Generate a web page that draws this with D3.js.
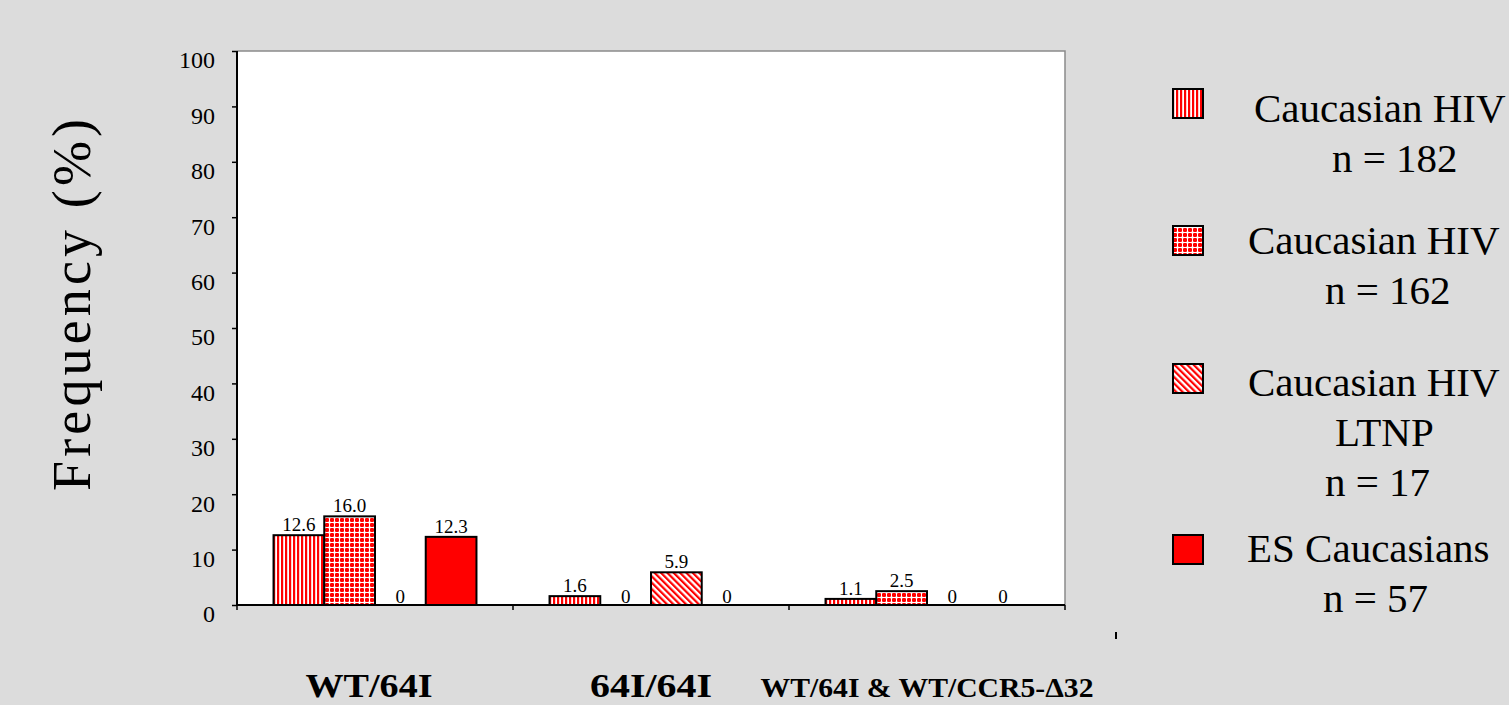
<!DOCTYPE html>
<html>
<head>
<meta charset="utf-8">
<script src="https://cdn.jsdelivr.net/npm/d3@7"></script>
<style>
  html, body { margin: 0; padding: 0; background: #dcdcdc; overflow: hidden; }
  svg { display: block; }
</style>
</head>
<body>
<svg id="chart" width="1509" height="705"></svg>
<script>
// Genotype groups along the x axis
const categories = ["WT/64I", "64I/64I", "WT/64I & WT/CCR5-\u039432"];

// Frequency (%) for each cohort, one value per genotype group
const seriesNames = ["Caucasian HIV (n = 182)", "Caucasian HIV (n = 162)", "Caucasian HIV LTNP (n = 17)", "ES Caucasians (n = 57)"];
const cohortA = [12.6, 1.6, 1.1];
const cohortB = [16.0, 0, 2.5];
const cohortC = [0, 5.9, 0];
const cohortD = [12.3, 0, 0];

// Legend text, one list of lines per cohort
const legendLines = [
  ["Caucasian HIV", "n = 182"],
  ["Caucasian HIV", "n = 162"],
  ["Caucasian HIV", "LTNP", "n = 17"],
  ["ES Caucasians", "n = 57"]
];

const yTicks = [0, 10, 20, 30, 40, 50, 60, 70, 80, 90, 100];

const seriesValues = [cohortA, cohortB, cohortC, cohortD];
const fills = ["url(#pVert)", "url(#pDots)", "url(#pDiag)", "#ff0000"];

const svg = d3.select("#chart");
const serif = "'Liberation Serif', 'Times New Roman', serif";

// Fill patterns
const defs = svg.append("defs");
const pv = defs.append("pattern").attr("id", "pVert").attr("patternUnits", "userSpaceOnUse")
  .attr("width", 4).attr("height", 4);
pv.append("rect").attr("width", 4).attr("height", 4).attr("fill", "#ffffff");
pv.append("rect").attr("width", 2.2).attr("height", 4).attr("fill", "#ff0000");

const pd = defs.append("pattern").attr("id", "pDots").attr("patternUnits", "userSpaceOnUse")
  .attr("width", 5).attr("height", 5);
pd.append("rect").attr("width", 5).attr("height", 5).attr("fill", "#ff0000");
pd.append("rect").attr("x", 0).attr("y", 2).attr("width", 5).attr("height", 1).attr("fill", "#ffffff");
pd.append("rect").attr("x", 2).attr("y", 0).attr("width", 1).attr("height", 5).attr("fill", "#ffffff");
pd.append("circle").attr("cx", 2.5).attr("cy", 2.5).attr("r", 1.3).attr("fill", "#ffffff");

const pg = defs.append("pattern").attr("id", "pDiag").attr("patternUnits", "userSpaceOnUse")
  .attr("width", 4.5).attr("height", 4.5).attr("patternTransform", "rotate(-45)");
pg.append("rect").attr("width", 4.5).attr("height", 4.5).attr("fill", "#ffffff");
pg.append("rect").attr("width", 2.2).attr("height", 4.5).attr("fill", "#ff0000");

// Plot geometry
const plot = { left: 237, right: 1065, top: 51, bottom: 605 };

const y = d3.scaleLinear().domain([0, 100]).range([plot.bottom, plot.top]);
const x0 = d3.scaleBand().domain(categories).range([plot.left, plot.right]).padding(0);
const x1 = d3.scaleBand().domain(d3.range(seriesValues.length))
  .range([0, x0.bandwidth()]).paddingInner(0).paddingOuter(0.72);

// Plot area
svg.append("rect")
  .attr("x", plot.left).attr("y", plot.top)
  .attr("width", plot.right - plot.left).attr("height", plot.bottom - plot.top)
  .attr("fill", "#ffffff");
svg.append("path")
  .attr("d", `M${plot.left},${plot.top}H${plot.right}V${plot.bottom}`)
  .attr("fill", "none").attr("stroke", "#8a8a8a").attr("stroke-width", 1.5);

// Bars
const groups = svg.append("g").selectAll("g")
  .data(categories).join("g")
  .attr("transform", d => `translate(${x0(d)},0)`);

groups.selectAll("rect")
  .data((d, ci) => seriesValues.map((vals, si) => ({ si, v: vals[ci] })))
  .join("rect")
  .filter(d => d.v > 0)
  .attr("x", d => x1(d.si))
  .attr("y", d => y(d.v))
  .attr("width", x1.bandwidth())
  .attr("height", d => y(0) - y(d.v))
  .attr("fill", d => fills[d.si])
  .attr("stroke", "#000").attr("stroke-width", 2);

// Value labels
groups.selectAll("text")
  .data((d, ci) => seriesValues.map((vals, si) => ({ si, v: vals[ci] })))
  .join("text")
  .attr("x", d => x1(d.si) + x1.bandwidth() / 2)
  .attr("y", d => y(d.v) - (d.v > 0 ? 4 : 2))
  .attr("text-anchor", "middle")
  .attr("font-family", serif).attr("font-size", 19)
  .attr("fill", "#000")
  .text(d => d.v === 0 ? "0" : d.v.toFixed(1));

// Y axis
const yAxis = svg.append("g")
  .attr("transform", `translate(${plot.left},0)`)
  .call(d3.axisLeft(y).tickValues(yTicks).tickSize(5).tickPadding(17).tickFormat(d3.format("d")));
yAxis.select(".domain").attr("stroke", "#000").attr("stroke-width", 2)
  .attr("d", `M0,${plot.top}V${plot.bottom}`);
yAxis.selectAll(".tick line").attr("stroke", "#000").attr("stroke-width", 1.5);
yAxis.selectAll(".tick text")
  .attr("font-family", serif).attr("font-size", 24).attr("fill", "#000")
  .attr("dy", "0.7em");

// X axis baseline with group separators
const xAxis = svg.append("g")
  .attr("transform", `translate(0,${plot.bottom})`)
  .call(d3.axisBottom(x0).tickSize(0).tickFormat(""));
xAxis.select(".domain").attr("stroke", "#000").attr("stroke-width", 2)
  .attr("d", `M${plot.left},0H${plot.right}`);
xAxis.selectAll(".tick").remove();
const seps = categories.map(c => x0(c)).concat([x0.range()[1]]);
xAxis.selectAll("line.sep").data(seps).join("line")
  .attr("class", "sep")
  .attr("x1", d => d).attr("x2", d => d)
  .attr("y1", 0).attr("y2", 5)
  .attr("stroke", "#000").attr("stroke-width", 1.5);

// Category labels (condensed bold serif)
const catSizes = [34, 34, 28];
const catLengths = [127, 122, 333];
svg.append("g").selectAll("text")
  .data(categories).join("text")
  .attr("x", (d, i) => x0(d) + x0.bandwidth() / 2 - (i === 0 ? 6 : 0))
  .attr("y", 697)
  .attr("text-anchor", "middle")
  .attr("font-family", serif).attr("font-weight", "bold")
  .attr("font-size", (d, i) => catSizes[i])
  .attr("textLength", (d, i) => catLengths[i])
  .attr("lengthAdjust", "spacingAndGlyphs")
  .attr("fill", "#000")
  .text(d => d);

// Y axis title
svg.append("text")
  .attr("transform", "translate(90,305) rotate(-90)")
  .attr("text-anchor", "middle")
  .attr("font-family", serif).attr("font-size", 54)
  .attr("textLength", 372).attr("lengthAdjust", "spacing")
  .attr("fill", "#000")
  .text("Frequency (%)");

// Small stray mark below the plot
svg.append("rect").attr("x", 1115).attr("y", 632).attr("width", 2).attr("height", 7).attr("fill", "#000");

// Legend
const legendTop = [89, 226, 364, 535];
const firstBase = [33, 28, 32, 27];
const lineX = [[1254, 1332], [1248, 1325], [1248, 1335, 1325], [1247, 1323]];
const legend = svg.append("g").selectAll("g")
  .data(legendLines).join("g");
legend.append("rect")
  .attr("x", 1173).attr("y", (d, i) => legendTop[i])
  .attr("width", 30).attr("height", 29)
  .attr("fill", (d, i) => fills[i])
  .attr("stroke", "#000").attr("stroke-width", 2);
legend.each(function (lines, i) {
  d3.select(this).selectAll("text").data(lines).join("text")
    .attr("x", (t, j) => lineX[i][j])
    .attr("y", (t, j) => legendTop[i] + firstBase[i] + j * 50)
    .attr("font-family", serif).attr("font-size", 41)
    .attr("fill", "#000")
    .text(t => t);
});
</script>
</body>
</html>
